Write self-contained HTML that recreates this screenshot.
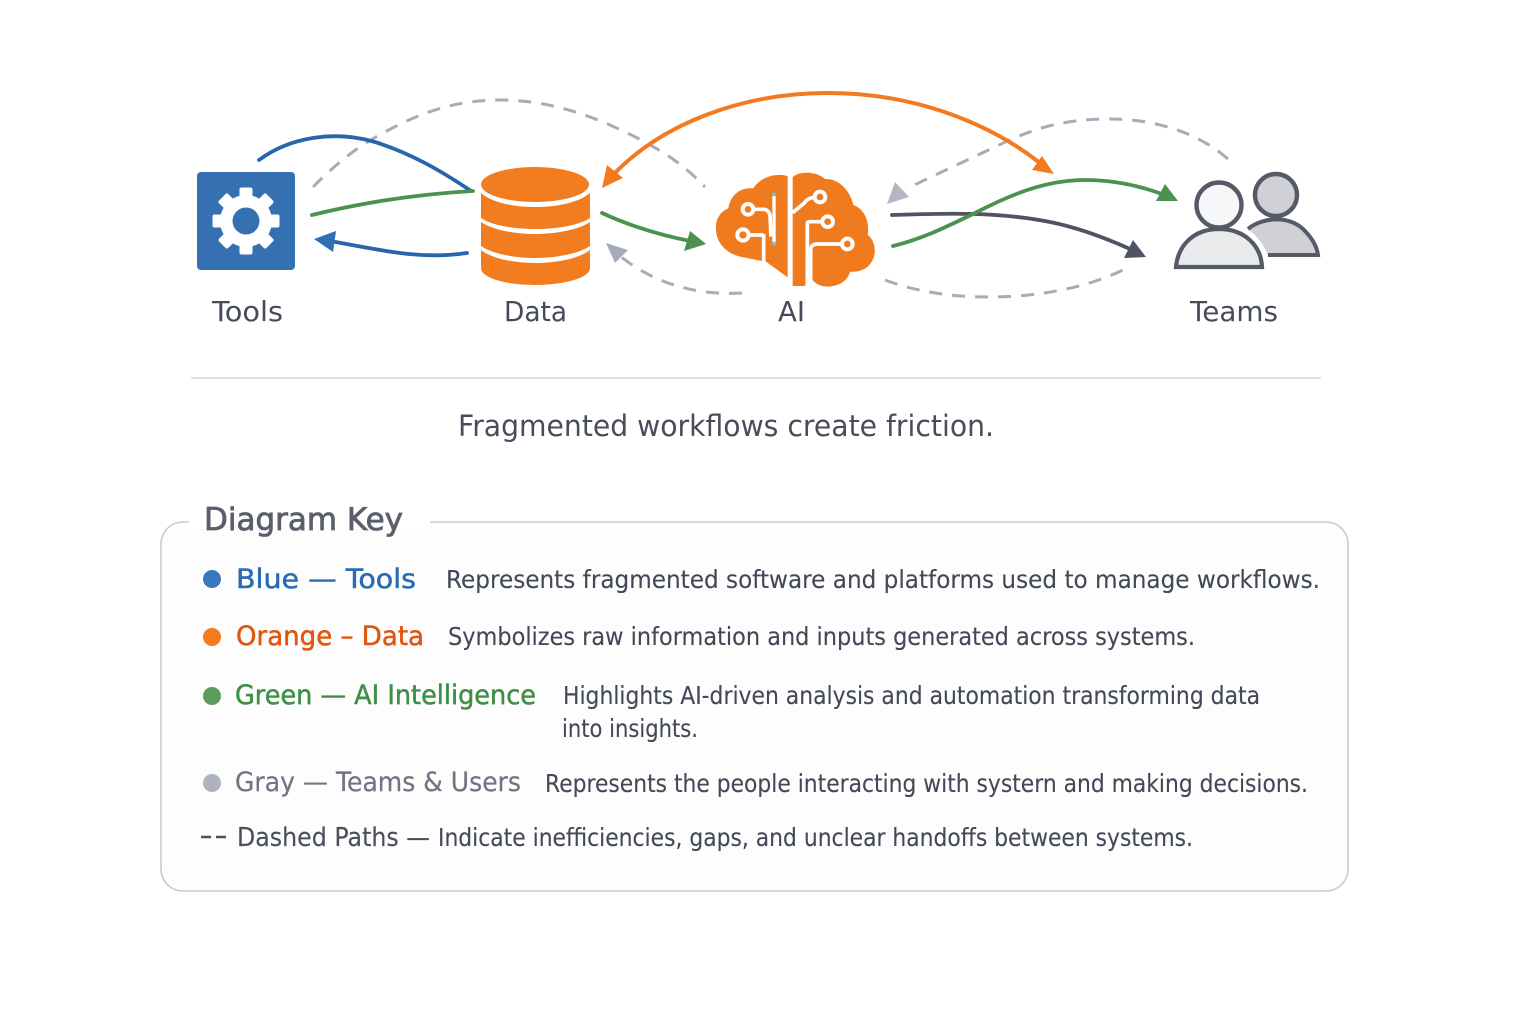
<!DOCTYPE html>
<html lang="en">
<head>
<meta charset="utf-8">
<title>Fragmented workflows diagram</title>
<style>
html,body{margin:0;padding:0;background:#fff;width:1536px;height:1024px;overflow:hidden}
svg{display:block}
text{font-family:"DejaVu Sans","Liberation Sans",sans-serif}
.lab{font-size:27.5px;fill:#454b5a}
.k{font-size:27px}
.d{font-size:25px;fill:#424856;stroke:#424856;stroke-width:.12}
.c{fill:none;stroke-linecap:round;stroke-linejoin:round}
.dash{fill:none;stroke:#a8abb9;stroke-width:3;stroke-dasharray:13 10}
</style>
</head>
<body>
<svg width="1536" height="1024" viewBox="0 0 1536 1024" xmlns="http://www.w3.org/2000/svg">
<rect width="1536" height="1024" fill="#fff"/>

<!-- dashed connectors -->
<path class="dash" d="M313,187 C340,160 360,145 385,132 C425,110 460,100 500,100 C540,100 575,110 610,125 C650,143 680,160 705,187"/>
<path class="dash" d="M742,293 C690,296 650,280 620,256"/>
<polygon points="606,243 628,250 615,263" fill="#a8abb9"/>
<path class="dash" d="M1228,159 C1195,130 1150,119 1110,119 C1060,119 1030,130 997,146 C965,161 935,175 906,189"/>
<polygon points="887,204 895,182 909,197" fill="#b4b7c3"/>
<path class="dash" d="M885,280 C920,293 955,297 990,297 C1040,297 1090,287 1127,268"/>

<!-- Tools icon -->
<rect x="197" y="172" width="98" height="98" rx="4" fill="#3570b3"/>
<g transform="translate(246,221)" fill="#fff">
<circle r="26"/>
<rect x="-6.5" y="-33.5" width="13" height="14" rx="2"/>
<rect x="-6.5" y="-33.5" width="13" height="14" rx="2" transform="rotate(45)"/>
<rect x="-6.5" y="-33.5" width="13" height="14" rx="2" transform="rotate(90)"/>
<rect x="-6.5" y="-33.5" width="13" height="14" rx="2" transform="rotate(135)"/>
<rect x="-6.5" y="-33.5" width="13" height="14" rx="2" transform="rotate(180)"/>
<rect x="-6.5" y="-33.5" width="13" height="14" rx="2" transform="rotate(225)"/>
<rect x="-6.5" y="-33.5" width="13" height="14" rx="2" transform="rotate(270)"/>
<rect x="-6.5" y="-33.5" width="13" height="14" rx="2" transform="rotate(315)"/>
<circle r="13.5" fill="#3570b3"/>
</g>

<!-- Data cylinder -->
<g fill="#f27c20">
<path d="M481,193 C491,202 512,207 535,207 C558,207 580,202 590,193 L590,218 C580,225 558,229 535,229 C512,229 491,225 481,218 Z"/>
<path d="M481,222 C491,229 512,234 535,234 C558,234 580,229 590,222 L590,246 C580,253 558,258 535,258 C512,258 491,253 481,246 Z"/>
<path d="M481,250 C491,258 512,263 535,263 C558,263 580,258 590,250 L590,268 C590,278 564,285 535,285 C506,285 481,278 481,268 Z"/>
<ellipse cx="535" cy="184.5" rx="54" ry="17.5"/>
</g>

<!-- Brain -->
<g transform="translate(600,80) scale(.33333)">
<path d="M563,290 Q555,283 530,285 C505,287 475,300 460,325 C425,322 392,340 385,385 C360,395 345,420 348,450 C350,490 380,520 420,530 Q455,537 485,543 L498,545 L563,592 Z" fill="#f07a1e"/>
<path d="M578,292 Q590,278 625,278 C650,280 665,288 675,297 C715,295 750,330 760,375 C790,385 810,420 803,465 C825,480 832,520 815,545 C805,565 780,578 750,575 C745,600 720,618 685,620 C660,620 645,610 635,597 Q628,612 612,618 L578,618 Z" fill="#f07a1e"/>
<g fill="none" stroke="#fff" stroke-width="11">
<path d="M490,465 H450 M491,462 V548"/>
<path d="M460,388 H490 Q505,388 510,405 L513,470"/>
<path d="M522,345 V490" stroke-width="10"/>
<path d="M578,398 L612,370 Q625,352 645,352"/>
<path d="M622,618 V430 Q622,425 630,425 H665"/>
<path d="M632,618 V510 Q632,492 655,492 H725"/>
</g>
<g fill="#f07a1e" stroke="#fff" stroke-width="12">
<circle cx="444" cy="388" r="16"/>
<circle cx="429" cy="465" r="17"/>
<circle cx="660" cy="351" r="16"/>
<circle cx="683" cy="425" r="16"/>
<circle cx="742" cy="492" r="16"/>
</g>
<circle cx="522" cy="343" r="6" fill="#6cc4d8"/>
<circle cx="522" cy="491" r="6" fill="#6cc4d8"/>
</g>

<!-- Teams icon -->
<path d="M1248,229 C1262,217 1290,215 1304,230 C1312,238 1317,247 1318,255 H1268 C1264,245 1257,236 1248,229 Z" fill="#cfd1d6"/>
<path d="M1248,229 C1262,217 1290,215 1304,230 C1312,238 1317,247 1318,255 H1268" fill="none" stroke="#565a67" stroke-width="4"/>
<circle cx="1276" cy="195" r="21" fill="#cfd1d6" stroke="#565a67" stroke-width="4.4"/>
<path d="M1176,267 C1178,245 1194,229 1219,229 C1244,229 1261,245 1262,267 Z" fill="#e9eaec" stroke="#565a67" stroke-width="4.2"/>
<circle cx="1219" cy="205" r="22.5" fill="#f6f7f8" stroke="#565a67" stroke-width="4.4"/>

<!-- solid connectors -->
<path class="c" stroke="#2766ad" stroke-width="3.8" d="M259,160 C290,137 335,130 375,142 C410,153 440,170 471,191"/>
<path class="c" stroke="#4b9150" stroke-width="3.8" d="M312,215 C365,202 420,194 473,191"/>
<path class="c" stroke="#2766ad" stroke-width="3.8" d="M467,253 C420,260 380,250 330,241"/>
<polygon points="314,239 336,231 333,252" fill="#2f6fb5"/>
<path class="c" stroke="#f47a1f" stroke-width="4" d="M612,176 C660,125 740,93 828,93 C910,93 985,120 1040,163"/>
<polygon points="602,188 607,165 623,178" fill="#f47a1f"/>
<polygon points="1054,174 1042,156 1032,170" fill="#f47a1f"/>
<path class="c" stroke="#4b9150" stroke-width="3.8" d="M602,213 C630,226 660,235 690,241"/>
<polygon points="706,244 690,231 684,251" fill="#4b9150"/>
<path class="c" stroke="#4f5362" stroke-width="3.8" d="M892,215 C950,213 1000,212 1050,222 C1080,228 1110,240 1130,249"/>
<polygon points="1146,257 1133,240 1124,258" fill="#4f5362"/>
<path class="c" stroke="#4b9150" stroke-width="3.8" d="M893,246 C925,238 950,225 975,213 C1010,195 1045,180 1085,180 C1115,180 1140,186 1162,194"/>
<polygon points="1178,201 1165,184 1156,201" fill="#4b9150"/>

<!-- node labels -->
<text class="lab" x="212" y="321" textLength="71" lengthAdjust="spacingAndGlyphs">Tools</text>
<text class="lab" x="504" y="321" textLength="63" lengthAdjust="spacingAndGlyphs">Data</text>
<text class="lab" x="778" y="321" textLength="27" lengthAdjust="spacingAndGlyphs">AI</text>
<text class="lab" x="1190" y="321" textLength="88" lengthAdjust="spacingAndGlyphs">Teams</text>

<line x1="191" y1="378" x2="1321" y2="378" stroke="#d5d7dc" stroke-width="1.6"/>
<text x="458" y="436" font-size="29.5" fill="#484d5b" textLength="536" lengthAdjust="spacingAndGlyphs">Fragmented workflows create friction.</text>

<!-- key panel -->
<rect x="161" y="522" width="1187" height="369" rx="22" fill="#fdfdfe" stroke="#c8cbd6" stroke-width="1.6"/>
<rect x="189" y="515" width="241" height="14" fill="#fff"/>
<text x="204" y="530" font-size="31" fill="#5b5f6c" stroke="#5b5f6c" stroke-width=".8" textLength="199" lengthAdjust="spacingAndGlyphs">Diagram Key</text>

<circle cx="212" cy="579" r="9" fill="#3a78bd"/>
<text class="k" x="236" y="588" fill="#2a6cb0" stroke="#2a6cb0" stroke-width=".5" textLength="180" lengthAdjust="spacingAndGlyphs">Blue — Tools</text>
<text class="d" x="446" y="588" textLength="874" lengthAdjust="spacingAndGlyphs">Represents fragmented software and platforms used to manage workflows.</text>

<circle cx="212" cy="637" r="9" fill="#f47b20"/>
<text class="k" x="236" y="645" fill="#e0560f" stroke="#e0560f" stroke-width=".5" textLength="188" lengthAdjust="spacingAndGlyphs">Orange – Data</text>
<text class="d" x="448" y="645" textLength="747" lengthAdjust="spacingAndGlyphs">Symbolizes raw information and inputs generated across systems.</text>

<circle cx="212" cy="696" r="9" fill="#5b9e5b"/>
<text class="k" x="235" y="704" fill="#3f8f47" stroke="#3f8f47" stroke-width=".5" textLength="301" lengthAdjust="spacingAndGlyphs">Green — AI Intelligence</text>
<text class="d" x="563" y="704" textLength="697" lengthAdjust="spacingAndGlyphs">Highlights AI-driven analysis and automation transforming data</text>
<text class="d" x="562" y="737" textLength="136" lengthAdjust="spacingAndGlyphs">into insights.</text>

<circle cx="212" cy="783" r="9" fill="#aeb1c0"/>
<text class="k" x="235" y="791" fill="#6f7482" stroke="#6f7482" stroke-width=".2" textLength="286" lengthAdjust="spacingAndGlyphs">Gray — Teams &amp; Users</text>
<text class="d" x="545" y="792" textLength="763" lengthAdjust="spacingAndGlyphs">Represents the people interacting with systern and making decisions.</text>

<line x1="201" y1="837" x2="226" y2="837" stroke="#4a4f5d" stroke-width="2.4" stroke-dasharray="10 5"/>
<text x="237" y="846" font-size="26" fill="#4a4f5d" stroke="#4a4f5d" stroke-width=".15" textLength="193" lengthAdjust="spacingAndGlyphs">Dashed Paths —</text>
<text class="d" x="438" y="846" textLength="755" lengthAdjust="spacingAndGlyphs">Indicate inefficiencies, gaps, and unclear handoffs between systems.</text>
</svg>
</body>
</html>
